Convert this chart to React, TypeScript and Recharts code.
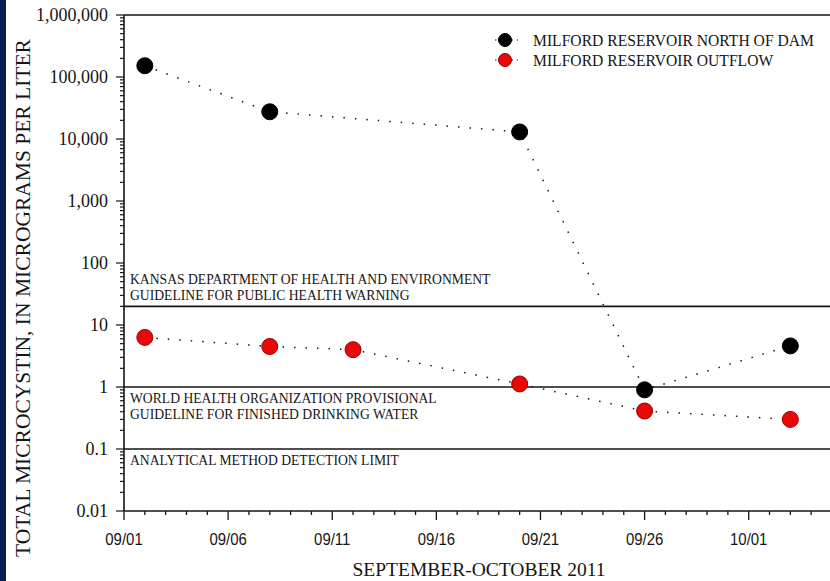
import React from 'react';
import { LineChart, Line, XAxis, YAxis, ReferenceLine, Legend, Label } from 'recharts';

// Sampling dates and total microcystin (µg/L) per site
const northDamDates = ['2011-09-02', '2011-09-08', '2011-09-20', '2011-09-26', '2011-10-03'];
const northDamValues = [152000, 27500, 13000, 0.9, 4.6];

const outflowDates = ['2011-09-02', '2011-09-08', '2011-09-12', '2011-09-20', '2011-09-26', '2011-10-03'];
const outflowValues = [6.3, 4.5, 4.0, 1.12, 0.41, 0.3];

const seriesNames = ['MILFORD RESERVOIR NORTH OF DAM', 'MILFORD RESERVOIR OUTFLOW'];

// Axis ticks
const xTickLabels = ['09/01', '09/06', '09/11', '09/16', '09/21', '09/26', '10/01'];
const yTickValues = [0.01, 0.1, 1, 10, 100, 1000, 10000, 100000, 1000000];
const yTickLabels = ['0.01', '0.1', '1', '10', '100', '1,000', '10,000', '100,000', '1,000,000'];

// Guideline levels (µg/L) and their captions
const guidelineValues = [20, 1, 0.1];
const guidelineCaptions = [
  ['KANSAS DEPARTMENT OF HEALTH AND ENVIRONMENT', 'GUIDELINE FOR PUBLIC HEALTH WARNING'],
  ['WORLD HEALTH ORGANIZATION PROVISIONAL', 'GUIDELINE FOR FINISHED DRINKING WATER'],
  ['ANALYTICAL METHOD DETECTION LIMIT'],
];

const SERIF = '"Liberation Serif", "Times New Roman", Times, serif';
const SANS = '"Liberation Sans", Arial, Helvetica, sans-serif';
const INK = '#151515';
const DOT_FILL = ['#000000', '#e80808'];
const DOT_EDGE = ['#000000', '#9a0000'];

const serifStyle = (size: number) => ({ fontFamily: SERIF, fontSize: size, fill: INK });
const sansStyle = (size: number) => ({ fontFamily: SANS, fontSize: size, fill: INK });

const START = Date.UTC(2011, 8, 1);
const toDay = (iso: string) => {
  const [y, m, d] = iso.split('-').map(Number);
  return Math.round((Date.UTC(y, m - 1, d) - START) / 86400000);
};

const northDam = northDamDates.map((d, i) => ({ day: toDay(d), value: northDamValues[i] }));
const outflow = outflowDates.map((d, i) => ({ day: toDay(d), value: outflowValues[i] }));

const X_MAX = 34;
const xTicks = Array.from({ length: X_MAX + 1 }, (_, i) => i);

// log axis: decades plus 2..9 minor ticks
const yTicks: number[] = [];
for (let e = -2; e < 6; e++) {
  for (let m = 1; m <= 9; m++) yTicks.push(Number((m * Math.pow(10, e)).toPrecision(6)));
}
yTicks.push(1000000);

const XTick = (props: any) => {
  const { x, y, payload } = props;
  const day = payload.value as number;
  const major = day % 5 === 0 && day / 5 < xTickLabels.length;
  return (
    <g>
      <line x1={x} x2={x} y1={y} y2={y + (major ? 9 : 4)} stroke={INK} strokeWidth={1.3} />
      {major && (
        <text
          transform={`translate(${x} ${y + 34}) scale(0.88 1)`}
          textAnchor="middle"
          style={sansStyle(17)}
        >
          {xTickLabels[day / 5]}
        </text>
      )}
    </g>
  );
};

const YTick = (props: any) => {
  const { x, y, payload } = props;
  const v = payload.value as number;
  const idx = yTickValues.findIndex((t) => Math.abs(t - v) / t < 1e-6);
  const major = idx >= 0;
  return (
    <g>
      <line x1={x - (major ? 8 : 4)} x2={x} y1={y} y2={y} stroke={INK} strokeWidth={1.2} />
      {major && (
        <text x={x - 16} y={y + 6} textAnchor="end" style={serifStyle(18)}>
          {yTickLabels[idx]}
        </text>
      )}
    </g>
  );
};

const makeDot = (s: number) => (props: any) => {
  const { cx, cy, index } = props;
  return (
    <circle
      key={`dot-${s}-${index}`}
      cx={cx}
      cy={cy}
      r={8}
      fill={DOT_FILL[s]}
      stroke={DOT_EDGE[s]}
      strokeWidth={1}
    />
  );
};

const CAPTION_LEADING = 16;

const makeCaption = (g: number) => (props: any) => {
  const vb = props.viewBox || {};
  const x = (vb.x ?? 124) + 6;
  const y = vb.y ?? 0;
  const lines = guidelineCaptions[g];
  const above = g === 0;
  return (
    <g>
      {lines.map((t, i) => {
        const by = above
          ? y - 6 - (lines.length - 1 - i) * CAPTION_LEADING
          : y + 16 + i * CAPTION_LEADING;
        return (
          <text key={t} transform={`translate(${x} ${by}) scale(0.975 1)`} style={serifStyle(14)}>
            {t}
          </text>
        );
      })}
    </g>
  );
};

const LegendBox = () => (
  <svg width={340} height={46} style={{ display: 'block' }}>
    {seriesNames.map((name, i) => {
      const cy = 12 + i * 20;
      return (
        <g key={name}>
          <line x1={5} x2={28} y1={cy} y2={cy} stroke={INK} strokeWidth={1.2} strokeDasharray="1.5 4" />
          <circle cx={15} cy={cy} r={6.5} fill={DOT_FILL[i]} stroke={DOT_EDGE[i]} strokeWidth={1} />
          <text transform={`translate(43 ${cy + 6}) scale(0.92 1)`} style={serifStyle(17)}>
            {name}
          </text>
        </g>
      );
    })}
  </svg>
);

export default function App() {
  return (
    <div
      style={{
        position: 'fixed',
        left: 0,
        top: 0,
        width: 830,
        height: 581,
        overflow: 'hidden',
        background: '#ffffff',
      }}
    >
      <LineChart
        width={832}
        height={581}
        margin={{ top: 15, right: 0, bottom: 0, left: 0 }}
        style={{ position: 'absolute', left: 0, top: 0 }}
      >
        <XAxis
          type="number"
          dataKey="day"
          domain={[0, X_MAX]}
          ticks={xTicks}
          interval={0}
          height={70}
          tickSize={0}
          tickMargin={0}
          tickLine={false}
          tick={<XTick />}
          axisLine={{ stroke: INK, strokeWidth: 1.6 }}
          allowDecimals={false}
        >
          <Label
            content={() => (
              <text x={479} y={576} textAnchor="middle" style={serifStyle(19.5)}>
                SEPTEMBER-OCTOBER 2011
              </text>
            )}
          />
        </XAxis>
        <YAxis
          type="number"
          scale="log"
          domain={[0.01, 1000000]}
          ticks={yTicks}
          interval={0}
          width={124}
          tickSize={0}
          tickMargin={0}
          tickLine={false}
          tick={<YTick />}
          axisLine={{ stroke: INK, strokeWidth: 1.6 }}
          allowDataOverflow
        >
          <Label
            content={() => (
              <text
                transform="translate(23 298) rotate(-90)"
                textAnchor="middle"
                dominantBaseline="central"
                style={serifStyle(21.5)}
              >
                TOTAL MICROCYSTIN, IN MICROGRAMS PER LITER
              </text>
            )}
          />
        </YAxis>
        <ReferenceLine y={1000000} stroke={INK} strokeWidth={1.6} />
        {guidelineValues.map((v, g) => (
          <ReferenceLine key={v} y={v} stroke={INK} strokeWidth={1.6} label={makeCaption(g)} />
        ))}
        <Legend
          layout="horizontal"
          verticalAlign="middle"
          align="center"
          content={() => <LegendBox />}
          wrapperStyle={{ position: 'absolute', left: 490, top: 28, width: 340, height: 46 }}
        />
        <Line
          data={northDam}
          dataKey="value"
          name={seriesNames[0]}
          type="linear"
          stroke={INK}
          strokeWidth={1.5}
          strokeDasharray="1.5 10"
          dot={makeDot(0)}
          activeDot={false}
          isAnimationActive={false}
        />
        <Line
          data={outflow}
          dataKey="value"
          name={seriesNames[1]}
          type="linear"
          stroke={INK}
          strokeWidth={1.5}
          strokeDasharray="1.5 10"
          dot={makeDot(1)}
          activeDot={false}
          isAnimationActive={false}
        />
      </LineChart>
      <div
        style={{ position: 'absolute', left: 0, top: 0, width: 6, height: 581, background: '#0b1d4c' }}
      />
    </div>
  );
}
